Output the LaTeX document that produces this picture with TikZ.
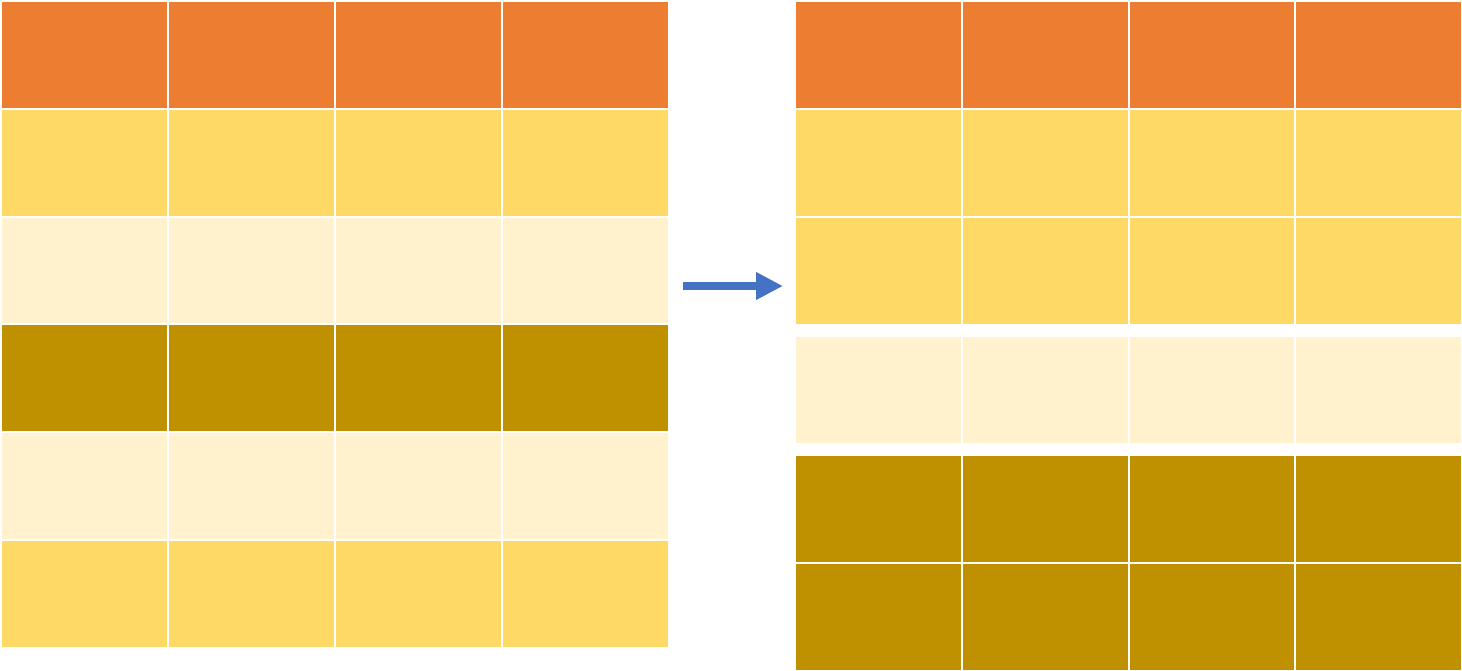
\documentclass[tikz,border=0pt]{standalone}
\usetikzlibrary{arrows.meta}
\definecolor{hdr}{HTML}{ED7D31}
\definecolor{yel}{HTML}{FFD966}
\definecolor{lite}{HTML}{FFF2CC}
\definecolor{dark}{HTML}{BF9000}
\definecolor{arr}{HTML}{4472C4}
\begin{document}
\begin{tikzpicture}[x=1pt,y=-1pt,
  cell/.style={draw=white,line width=2pt,inner sep=0pt,outer sep=0pt,anchor=north west,
    minimum width=167pt,minimum height=107.8pt},
  rcell/.style={cell,minimum width=166.75pt,minimum height=108pt}]
\useasboundingbox[fill=white] (0,0) rectangle (1462,670);
% left table
\foreach \r/\col in {0/hdr,1/yel,2/lite,3/dark,4/lite,5/yel}{
  \foreach \c in {0,1,2,3}{
    \node[cell,fill=\col] (L-\r-\c) at ({1+167*\c},{1+107.8*\r}) {};
  }
}
% right table
\foreach \r/\y/\col in {0/1/hdr,1/109/yel,2/217/yel,3/336/lite,4/455/dark,5/563/dark}{
  \foreach \c in {0,1,2,3}{
    \node[rcell,fill=\col] (R-\r-\c) at ({795+166.75*\c},\y) {};
  }
}
% arrow
\coordinate (a0) at (683,286);
\coordinate (a1) at (783,286);
\draw[arr,line width=8pt,-{Triangle[length=27pt,width=26pt]}] (a0) -- (a1);
\end{tikzpicture}
\end{document}
